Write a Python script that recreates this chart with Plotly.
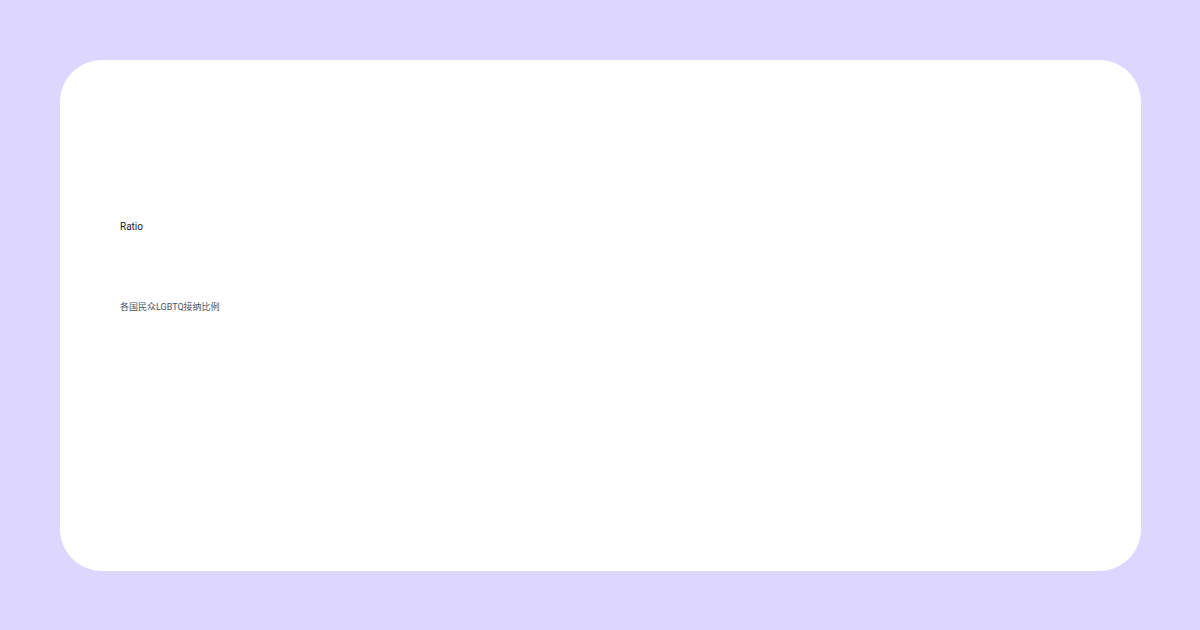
import plotly.graph_objects as go

# The reference card shows only its heading texts; no marks are drawn.
title_text = "Ratio"
subtitle_text = "各国民众LGBTQ接纳比例"
categories = []
ratio_values = []

W, H = 1200, 630
BG = "#DDD6FE"
CARD = "#FFFFFF"


def px_x(v):
    return v / W


def px_y(v):
    # paper y runs bottom-up
    return 1 - v / H


def rounded_rect(x0, y0, x1, y1, r):
    """SVG path for a rounded rectangle, given in pixels, returned in paper units."""
    k = 0.5523 * r
    pts = [
        ("M", [(x0 + r, y0)]),
        ("L", [(x1 - r, y0)]),
        ("C", [(x1 - r + k, y0), (x1, y0 + r - k), (x1, y0 + r)]),
        ("L", [(x1, y1 - r)]),
        ("C", [(x1, y1 - r + k), (x1 - r + k, y1), (x1 - r, y1)]),
        ("L", [(x0 + r, y1)]),
        ("C", [(x0 + r - k, y1), (x0, y1 - r + k), (x0, y1 - r)]),
        ("L", [(x0, y0 + r)]),
        ("C", [(x0, y0 + r - k), (x0 + r - k, y0), (x0 + r, y0)]),
    ]
    out = []
    for cmd, coords in pts:
        s = " ".join(f"{px_x(a):.5f},{px_y(b):.5f}" for a, b in coords)
        out.append(f"{cmd} {s}")
    return " ".join(out) + " Z"


fig = go.Figure()
fig.add_trace(go.Bar(x=categories, y=ratio_values, marker_color="#7C3AED", showlegend=False))

fig.add_shape(
    type="path",
    xref="paper",
    yref="paper",
    path=rounded_rect(60, 60, 1141, 571, 42),
    fillcolor=CARD,
    line=dict(width=0),
    layer="below",
)

fig.add_annotation(
    text=title_text,
    xref="paper", yref="paper",
    x=px_x(118), y=px_y(226),
    xanchor="left", yanchor="middle",
    showarrow=False,
    font=dict(family="Roboto, Noto Sans CJK SC", size=10, color="#111827"),
)
fig.add_annotation(
    text=subtitle_text,
    xref="paper", yref="paper",
    x=px_x(118), y=px_y(306),
    xanchor="left", yanchor="middle",
    showarrow=False,
    font=dict(family="Roboto, Noto Sans CJK SC", size=9, color="#475569"),
)

fig.update_xaxes(visible=False)
fig.update_yaxes(visible=False)
fig.update_layout(
    width=W,
    height=H,
    margin=dict(l=0, r=0, t=0, b=0),
    paper_bgcolor=BG,
    plot_bgcolor="rgba(0,0,0,0)",
)

# drop the browser's default body margin so the lavender fills the window
fig.write_html(
    "out.html",
    config={"displayModeBar": False},
    post_script="document.body.style.margin='0';document.body.style.background='#DDD6FE';",
)
